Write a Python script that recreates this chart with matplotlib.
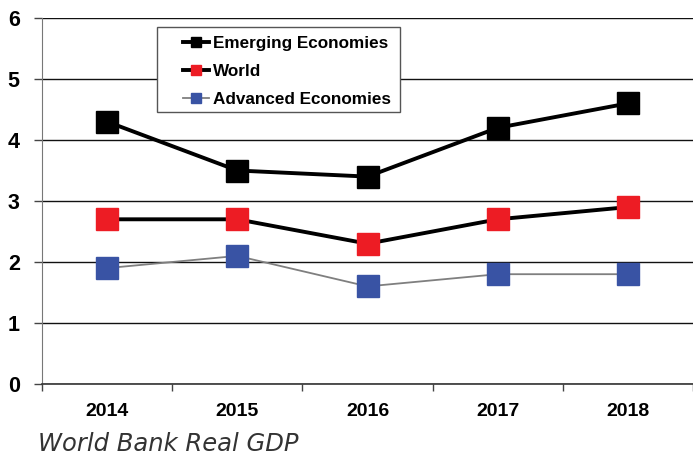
import numpy as np
import matplotlib.pyplot as plt
from matplotlib.patches import Rectangle

years = ["2014", "2015", "2016", "2017", "2018"]
emerging = [4.3, 3.5, 3.4, 4.2, 4.6]
world = [2.7, 2.7, 2.3, 2.7, 2.9]
advanced = [1.9, 2.1, 1.6, 1.8, 1.8]

plt.rcParams['font.family'] = ['Liberation Sans', 'DejaVu Sans']

fig = plt.figure(figsize=(6.93, 4.59), dpi=100)
ax = fig.add_axes([42 / 693, 75 / 459, 651 / 693, 366 / 459])

x = np.arange(len(years))
ax.plot(x, emerging, color='black', lw=2.8, marker='s', ms=16,
        mfc='black', mec='black', label='Emerging Economies', zorder=5)
ax.plot(x, world, color='black', lw=2.8, marker='s', ms=16,
        mfc='#ED1C24', mec='#ED1C24', label='World', zorder=5)
ax.plot(x, advanced, color='#7f7f7f', lw=1.3, marker='s', ms=16,
        mfc='#3953A4', mec='#3953A4', label='Advanced Economies', zorder=5)

ax.set_xlim(-0.5, 4.5)
ax.set_ylim(0, 6)
ax.set_yticks(range(7))
ax.set_yticklabels([str(i) for i in range(7)], fontsize=15.5, fontweight='bold')
ax.set_xticks(x)
ax.set_xticklabels(years, fontsize=14, fontweight='bold')
ax.set_xticks(np.arange(-0.5, 4.6, 1), minor=True)
ax.tick_params(axis='x', which='major', length=0, pad=14)
ax.tick_params(axis='x', which='minor', length=5, width=1, color='#444444', direction='out')
ax.tick_params(axis='y', length=6, width=1, color='#444444', pad=10)
ax.grid(axis='y', color='#111111', lw=1)
ax.set_axisbelow(True)
for s in ['top', 'right']:
    ax.spines[s].set_visible(False)
ax.spines['left'].set_color('#777777')
ax.spines['bottom'].set_color('#333333')
ax.spines['bottom'].set_linewidth(1.2)

# legend box drawn separately so the handles can sit indented as in the original
box = Rectangle((0.1767, 0.743), 0.3733, 0.2324, transform=ax.transAxes,
                facecolor='white', edgecolor='#555555', lw=1.0, zorder=9)
ax.add_patch(box)
leg = ax.legend(loc='upper left', bbox_to_anchor=(0.2166, 0.950), frameon=False,
                prop={'weight': 'bold', 'size': 12.3}, markerscale=0.45,
                handlelength=1.5, handletextpad=0.25, borderpad=0,
                labelspacing=0.74, borderaxespad=0)
leg.set_zorder(10)

fig.text(38 / 693, 1 - 444 / 459, "World Bank Real GDP", fontsize=17.5,
         style='italic', color='#333333', va='center', ha='left',
         family=['DejaVu Sans'])

fig.savefig('out.png', dpi=100)
